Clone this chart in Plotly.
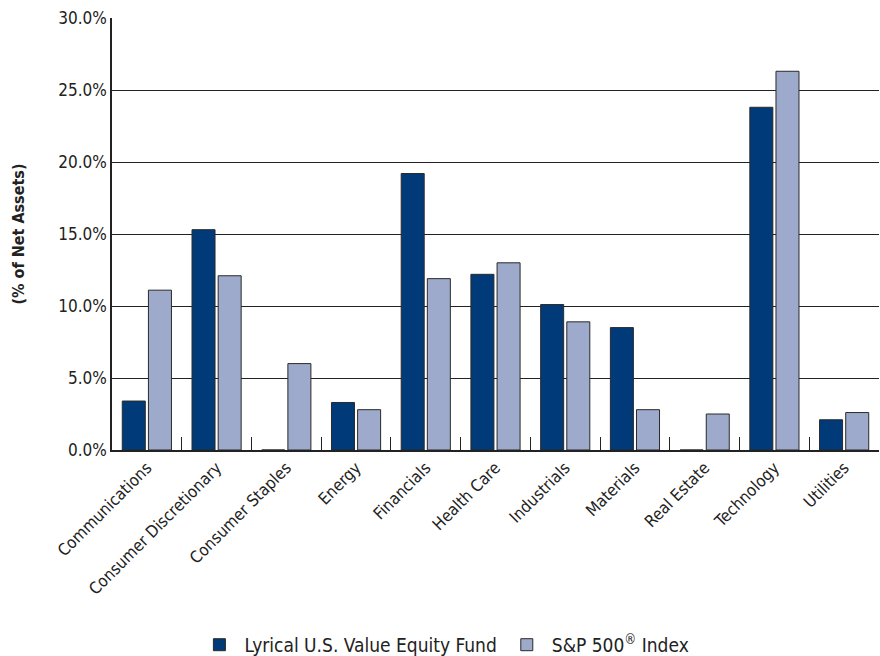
import plotly.graph_objects as go

categories = ["Communications", "Consumer Discretionary", "Consumer Staples", "Energy",
              "Financials", "Health Care", "Industrials", "Materials", "Real Estate",
              "Technology", "Utilities"]
fund_values = [3.4, 15.3, 0.0, 3.3, 19.2, 12.2, 10.1, 8.5, 0.0, 23.8, 2.1]
index_values = [11.1, 12.1, 6.0, 2.8, 11.9, 13.0, 8.9, 2.8, 2.5, 26.3, 2.6]
fund_name = "Lyrical U.S. Value Equity Fund"
index_name = "S&P 500<sup>®</sup> Index"
y_ticks = [0, 5, 10, 15, 20, 25, 30]
y_tick_labels = ["0.0%", "5.0%", "10.0%", "15.0%", "20.0%", "25.0%", "30.0%"]

FONT = "DejaVu Sans Condensed, DejaVu Sans, sans-serif"

fig = go.Figure()
fig.add_trace(go.Bar(x=categories, y=fund_values, name=fund_name,
                     marker=dict(color="#003A78", line=dict(color="#2a2a2a", width=1))))
fig.add_trace(go.Bar(x=categories, y=index_values, name=index_name,
                     marker=dict(color="#9DAACB", line=dict(color="#2a2a2a", width=1))))

fig.update_layout(
    width=880, height=656,
    margin=dict(l=112, r=1, t=18, b=206, autoexpand=False),
    plot_bgcolor="white", paper_bgcolor="white",
    barmode="group", bargap=0.25, bargroupgap=0.12,
    font=dict(family=FONT, size=15, color="#222"),
    showlegend=True,
    legend=dict(orientation="h", xref="container", yref="container",
                x=0.505, xanchor="center", y=0.017, yanchor="middle",
                font=dict(size=19, family=FONT), itemwidth=40, traceorder="normal"),
)
fig.update_xaxes(
    showline=True, linecolor="#222", linewidth=1.5,
    ticks="inside", ticklen=13, tickwidth=1.2, tickcolor="#222",
    tickson="boundaries", tickangle=-45,
    tickfont=dict(size=16.5, family=FONT, color="#222"),
    showgrid=False,
)
fig.update_yaxes(
    range=[0, 30], tickvals=y_ticks, ticktext=y_tick_labels,
    showline=True, linecolor="#222", linewidth=1.5,
    showgrid=True, gridcolor="#222", gridwidth=1.2,
    zeroline=False,
    tickfont=dict(size=17, family=FONT, color="#222"),
    title=dict(text="<b>(% of Net Assets)</b>", font=dict(size=16, family=FONT, color="#222"),
               standoff=30),
)

fig.write_html("out.html")
